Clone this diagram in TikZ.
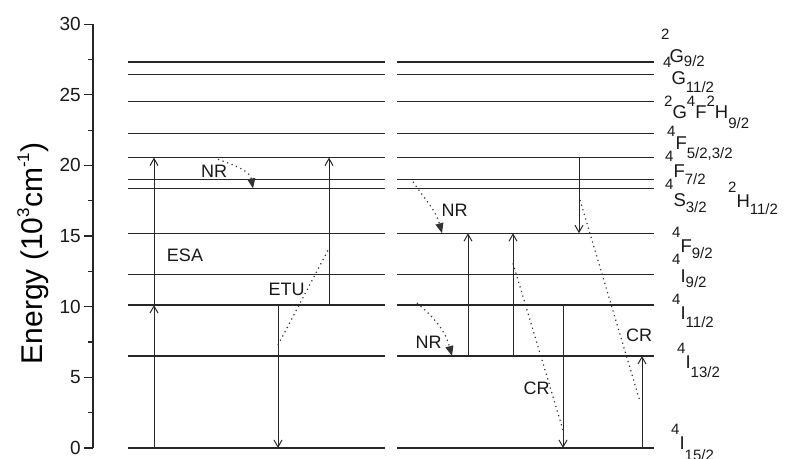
\documentclass[tikz,border=0pt]{standalone}
\usepackage{fontspec}
\setmainfont{Liberation Sans}
\usepackage{tikz}
\usetikzlibrary{arrows.meta, positioning}
\tikzset{
  level/.style={line width=1.1pt, black!85},
  trans/.style={line width=1pt, black!85, -{Straight Barb[length=7pt, width=8pt]}},
  nonrad/.style={line width=1.2pt, black!80, dash pattern=on 1.2pt off 3.6pt, -{Triangle[length=10pt, width=8pt]}},
  transfer/.style={line width=1.2pt, black!80, dash pattern=on 1.2pt off 3.6pt},
  proc/.style={font=\fontsize{18}{18}\selectfont, inner sep=0pt, text=black!90},
  term/.style={font=\fontsize{18.5}{18.5}\selectfont, inner sep=0pt, anchor=base west, text=black!90},
  ticklbl/.style={font=\fontsize{19}{19}\selectfont, inner sep=0pt, anchor=east, text=black!90}
}
\newcommand{\supr}[2]{\raisebox{#1pt}{\fontsize{15}{15}\selectfont #2}}

\begin{document}
\begin{tikzpicture}[x=1pt, y=14.13pt]
    \useasboundingbox (0,-0.778) rectangle (786,31.705);

    % Axis
    \draw[level] (93,0) -- (93,30);
    \foreach \v in {0,5,...,30} {
        \draw[level] (84,\v) -- (93,\v);
        \node[ticklbl] (tick\v) at (81,\v) {\v};
    }
    \foreach \v in {2.5,7.5,...,27.5}
        \draw[level] (88,\v) -- (93,\v);
    \node[rotate=90, anchor=base, inner sep=0pt, font=\fontsize{30}{30}\selectfont] (ytitle) at (42,13.77)
        {Energy (10\raisebox{13pt}{\fontsize{17}{17}\selectfont 3}cm\raisebox{13pt}{\fontsize{17}{17}\selectfont -1})};

    % Levels
    \foreach \e in {0,6.51,10.12,12.31,15.2,18.37,19.0,20.55,22.25,24.53,26.43,27.32} {
        \draw[level] (128,\e) -- (385,\e);
        \draw[level] (397,\e) -- (654,\e);
    }

    % Term labels
    \node[term] (tA) at (661,27.25) {\supr{23}{2}G\supr{-4}{9/2}};
    \node[term] (tB) at (663,25.69) {\supr{17}{4}G\supr{-8}{11/2}};
    \node[term] (tC) at (664,23.35) {\supr{12}{2}G\supr{12}{4}F\supr{12}{2}H\supr{-10}{9/2}};
    \node[term] (tD) at (667,21.09) {\supr{13}{4}F\supr{-9}{5/2,3/2}};
    \node[term] (tE) at (665,19.11) {\supr{16}{4}F\supr{-7}{7/2}};
    \node[term] (tF) at (665,17.06) {\supr{17}{4}S\supr{-6}{3/2}};
    \node[term] (tG) at (728,16.99) {\supr{15}{2}H\supr{-7}{11/2}};
    \node[term] (tH) at (672,13.87) {\supr{15}{4}F\supr{-6}{9/2}};
    \node[term] (tI) at (672,11.68) {\supr{18}{4}I\supr{-5}{9/2}};
    \node[term] (tJ) at (672,9.06) {\supr{15}{4}I\supr{-8}{11/2}};
    \node[term] (tK) at (677,5.66) {\supr{15}{4}I\supr{-9}{13/2}};
    \node[term] (tL) at (671,-0.14) {\supr{15}{4}I\supr{-11}{15/2}};

    % Process labels
    \node[proc] (esa) at (185,13.66) {ESA};
    \node[proc] (etu) at (286.5,11.25) {ETU};
    \node[proc] (nrL) at (214,19.57) {NR};
    \node[proc] (nrRu) at (454.5,16.84) {NR};
    \node[proc] (nrRl) at (428.5,7.47) {NR};
    \node[proc] (crRl) at (536.5,4.25) {CR};
    \node[proc] (crRu) at (639,7.96) {CR};

    % Left panel points
    \coordinate (gsaB) at (154,0);
    \coordinate (gsaT) at (154,10.12);
    \coordinate (esaT) at (154,20.55);
    \coordinate (dnB) at (278,0);
    \coordinate (dnT) at (278,10.12);
    \coordinate (upB) at (329,10.12);
    \coordinate (upT) at (329,20.55);
    \coordinate (etuS) at (278,7.29);
    \coordinate (etuE) at (329,14.13);
    \coordinate (nrLs) at (218,20.43);
    \coordinate (nrLe) at (253,18.37);

    % Right panel points
    \coordinate (pA) at (468,6.51);
    \coordinate (pAt) at (468,15.2);
    \coordinate (pB) at (513,6.51);
    \coordinate (pBt) at (513,15.2);
    \coordinate (pC) at (563,10.12);
    \coordinate (pCt) at (563,0);
    \coordinate (pD) at (579,20.55);
    \coordinate (pDt) at (579,15.2);
    \coordinate (pE) at (642,0);
    \coordinate (pEt) at (642,6.51);
    \coordinate (crAs) at (513,13.07);
    \coordinate (crAe) at (563,1.27);
    \coordinate (crBs) at (580,17.55);
    \coordinate (crBe) at (640,3.28);
    \coordinate (nrUs) at (413,18.83);
    \coordinate (nrUe) at (442,15.2);
    \coordinate (nrDs) at (417,10.26);
    \coordinate (nrDe) at (452,6.51);

    % Arrows
    \draw[trans] (gsaB) -- (gsaT);
    \draw[trans] (gsaT) -- (esaT);
    \draw[trans] (dnT) -- (dnB);
    \draw[trans] (upB) -- (upT);
    \draw[transfer] (etuS) -- (etuE);
    \draw[nonrad] (nrLs) to[out=-20, in=100] (nrLe);

    \draw[trans] (pA) -- (pAt);
    \draw[trans] (pB) -- (pBt);
    \draw[trans] (pC) -- (pCt);
    \draw[trans] (pD) -- (pDt);
    \draw[trans] (pE) -- (pEt);
    \draw[transfer] (crAs) -- (crAe);
    \draw[transfer] (crBs) -- (crBe);
    \draw[nonrad] (nrUs) to[out=-55, in=105] (nrUe);
    \draw[nonrad] (nrDs) to[out=-40, in=105] (nrDe);
\end{tikzpicture}
\end{document}
